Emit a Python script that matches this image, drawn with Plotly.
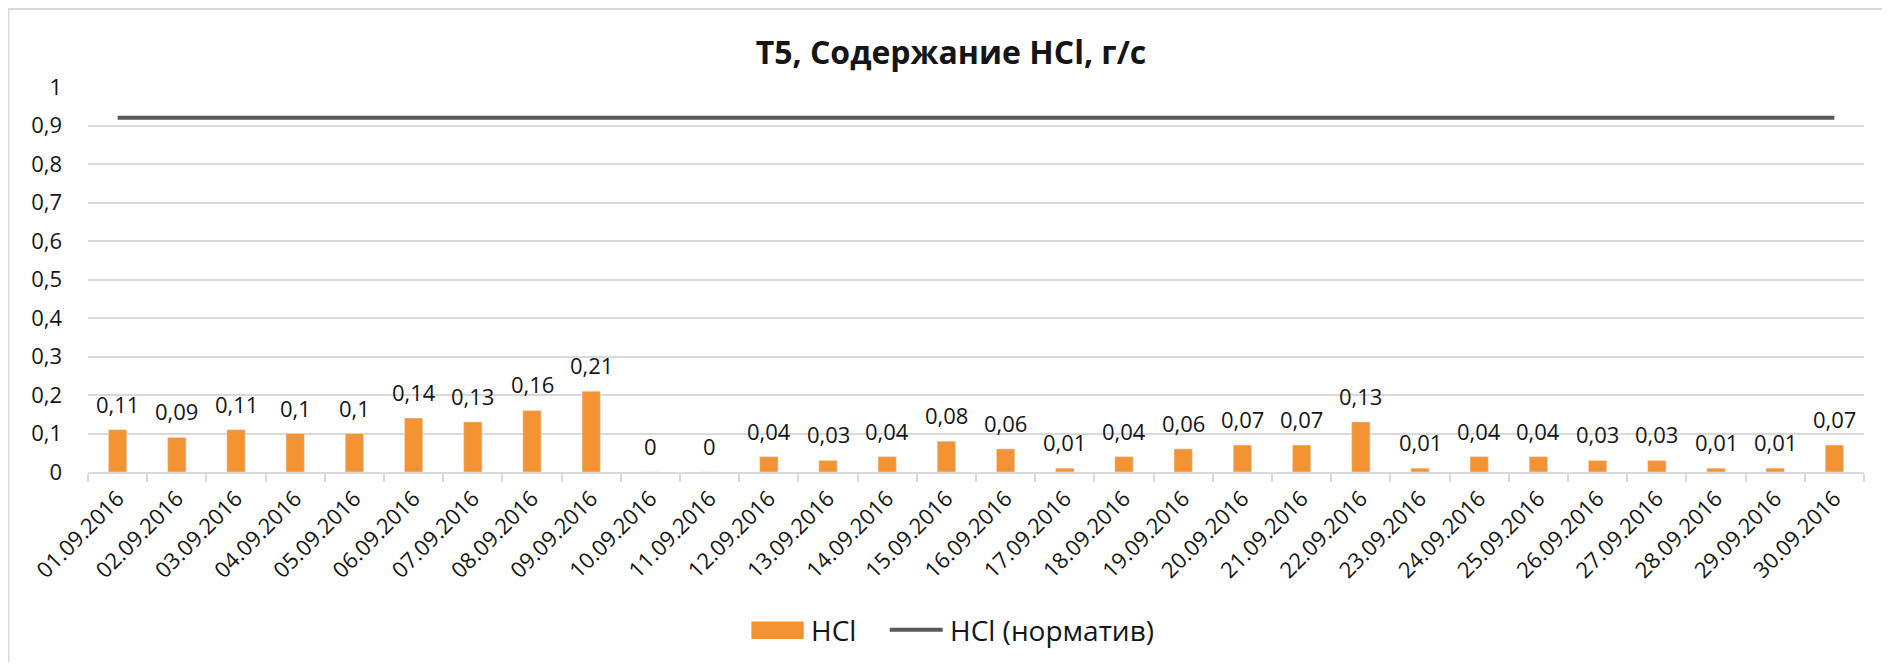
import plotly.graph_objects as go

dates = ["01.09.2016","02.09.2016","03.09.2016","04.09.2016","05.09.2016","06.09.2016",
         "07.09.2016","08.09.2016","09.09.2016","10.09.2016","11.09.2016","12.09.2016",
         "13.09.2016","14.09.2016","15.09.2016","16.09.2016","17.09.2016","18.09.2016",
         "19.09.2016","20.09.2016","21.09.2016","22.09.2016","23.09.2016","24.09.2016",
         "25.09.2016","26.09.2016","27.09.2016","28.09.2016","29.09.2016","30.09.2016"]
hcl = [0.11,0.09,0.11,0.1,0.1,0.14,0.13,0.16,0.21,0,0,0.04,0.03,0.04,0.08,0.06,0.01,0.04,
       0.06,0.07,0.07,0.13,0.01,0.04,0.04,0.03,0.03,0.01,0.01,0.07]
norm = [0.92]*len(dates)
yticks = [0,0.1,0.2,0.3,0.4,0.5,0.6,0.7,0.8,0.9,1]
ytick_text = ["0","0,1","0,2","0,3","0,4","0,5","0,6","0,7","0,8","0,9","1"]

FONT = "Open Sans, sans-serif"
TXT = "#151515"
BAR = "#F39333"
LINE = "#595959"
GRID = "#d9d9d9"

W, H = 1874, 654
l, r, t, b = 80.3, 17.7, 79.3, 189.7
pw, ph = W - l - r, H - t - b

def px(x):
    return (x - l) / pw

def py(y):
    return (H - b - y) / ph

fig = go.Figure()
fig.add_trace(go.Bar(x=dates, y=hcl, name="HCl", marker_color=BAR, width=0.31,
                     showlegend=False))
fig.add_trace(go.Scatter(x=dates, y=norm, name="HCl (норматив)", mode="lines",
                         line=dict(color=LINE, width=4), showlegend=False))

annotations = []
for d, v in zip(dates, hcl):
    annotations.append(dict(x=d, y=v, xref="x", yref="y", text=str(v).replace(".", ","),
                            showarrow=False, yanchor="middle", yshift=26,
                            font=dict(size=22, color=TXT)))

# legend (custom, to match swatch geometry)
annotations.append(dict(x=px(801), y=py(622), xref="paper", yref="paper", text="HCl",
                        showarrow=False, xanchor="left", yanchor="middle",
                        font=dict(size=28, color=TXT)))
annotations.append(dict(x=px(940), y=py(622), xref="paper", yref="paper",
                        text="HCl (норматив)", showarrow=False, xanchor="left",
                        yanchor="middle", font=dict(size=28, color=TXT)))

shapes = [
    dict(type="rect", xref="paper", yref="paper", x0=px(743.7), x1=px(796),
         y0=py(631.3), y1=py(613.7), fillcolor=BAR, line=dict(width=0)),
    dict(type="line", xref="paper", yref="paper", x0=px(882), x1=px(935),
         y0=py(622), y1=py(622), line=dict(color=LINE, width=4)),
    dict(type="line", xref="paper", yref="paper", x0=px(0), x1=px(W + 10),
         y0=py(1), y1=py(1), line=dict(color=GRID, width=2.5)),
    dict(type="line", xref="paper", yref="paper", x0=px(0.5), x1=px(0.5),
         y0=py(0), y1=py(H + 10), line=dict(color=GRID, width=2.5)),
]

fig.update_layout(
    width=W, height=H,
    margin=dict(l=l, r=r, t=t, b=b, autoexpand=False),
    paper_bgcolor="white", plot_bgcolor="white",
    font=dict(family=FONT, size=22, color=TXT),
    showlegend=False,
    title=dict(text="<b>Т5, Содержание HCl, г/с</b>", x=943 / W, xanchor="center",
               xref="container", y=1 - 45 / H, yanchor="middle",
               font=dict(size=32, color=TXT)),
    xaxis=dict(type="category", showgrid=False, showline=True, linecolor=GRID,
               linewidth=2, ticks="outside", tickson="boundaries", ticklen=8,
               tickcolor=GRID, tickwidth=2, tickangle=-45, ticklabelstandoff=3,
               tickfont=dict(size=22, color=TXT)),
    yaxis=dict(range=[0, 1], tickvals=yticks, ticktext=ytick_text, showgrid=True,
               gridcolor=GRID, gridwidth=1.5, zeroline=False, showline=False, ticks="",
               tickfont=dict(size=22, color=TXT), ticklabelstandoff=25),
    annotations=annotations,
    shapes=shapes,
)

fig.write_html("out.html")
